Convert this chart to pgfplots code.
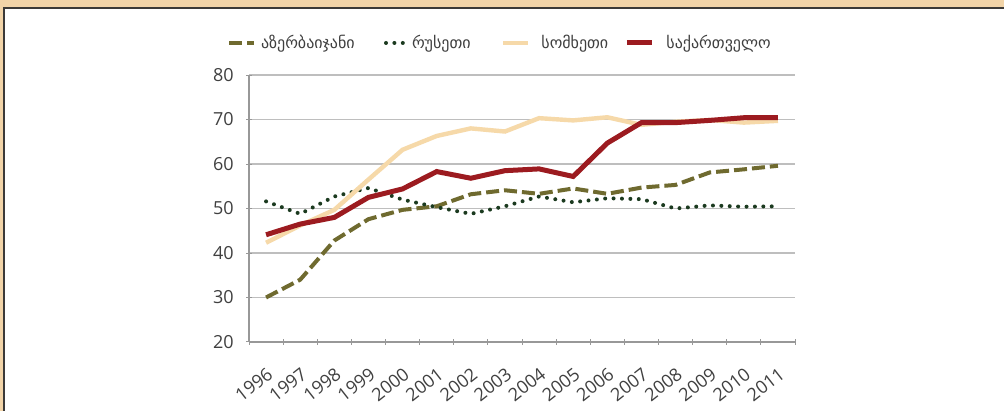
\documentclass[border=0pt]{standalone}
\usepackage{fontspec}
\setmainfont{Open Sans}
\newfontfamily\geo{DejaVu Sans}
\usepackage{pgfplots}
\pgfplotsset{compat=1.18}
\definecolor{aze}{HTML}{6F6A2F}
\definecolor{rus}{HTML}{1B3A1F}
\definecolor{arm}{HTML}{F6D9A9}
\definecolor{geo}{HTML}{9C1B20}
\definecolor{band}{HTML}{F2D4A8}
\definecolor{frame}{HTML}{3C3A38}
\definecolor{gridc}{HTML}{BEBEBE}
\definecolor{txt}{HTML}{404040}
\begin{document}
\begin{tikzpicture}
\useasboundingbox (0,0) rectangle (502pt,205.5pt);
\fill[white] (0,0) rectangle (502pt,205.5pt);
\fill[band] (0,201.75pt) rectangle (502pt,205.5pt);
\fill[band] (0,0) rectangle (1.6pt,205.5pt);
\draw[frame, line width=0.9pt] (2pt,0) -- (2pt,201.5pt) -- (502pt,201.5pt);
\begin{axis}[
  at={(124.5pt,34.5pt)}, anchor=south west,
  width=273pt, height=133.5pt, scale only axis,
  xmin=-0.5, xmax=15.5, ymin=20, ymax=80,
  ytick={20,30,...,80},
  xtick={0,...,15},
  xticklabels={1996,1997,1998,1999,2000,2001,2002,2003,2004,2005,2006,2007,2008,2009,2010,2011},
  minor xtick={-0.5,0.5,...,15.5},
  major x tick style={draw=none},
  minor x tick style={draw=gridc!80!black, line width=0.5pt},
  y tick style={draw=gridc!80!black, line width=0.5pt},
  tick align=outside,
  major tick length=3pt, minor tick length=3pt,
  separate axis lines,
  axis x line=bottom, axis y line=left,
  axis line style={-, draw=gridc!80!black, line width=0.6pt},
  ymajorgrids, grid style={draw=gridc, line width=0.7pt},
  tick label style={font=\fontsize{9}{10}\selectfont, text=txt},
  /pgf/number format/assume math mode=true,
  xticklabel style={rotate=38, anchor=north east, inner sep=0pt, xshift=-6.5pt, yshift=-8.3pt},
  yticklabel style={inner sep=0pt, xshift=-6pt},
  legend columns=4,
  legend style={draw=none, fill=none, inner sep=0pt, outer sep=0pt,
    at={(axis description cs:-0.0403,1.12)}, anchor=west,
    nodes={inner sep=0pt, anchor=west, font=\geo\fontsize{8}{9}\selectfont, text=txt},
    column sep=0pt},
  legend image code/.code={\draw[#1] (0pt,0pt) -- (12.5pt,0pt);},
]
\addplot[aze, line width=2pt, dash pattern=on 6.5pt off 2.5pt] coordinates {
(0,30.0) (1,34.0) (2,42.8) (3,47.6) (4,49.7) (5,50.5) (6,53.2) (7,54.1) (8,53.3) (9,54.5) (10,53.3) (11,54.7) (12,55.3) (13,58.1) (14,58.8) (15,59.6)};
\addlegendentry{\makebox[64pt][l]{\hspace{2.5pt}აზერბაიჯანი}}
\addplot[rus, line width=2pt, dash pattern=on 0pt off 4.2pt, line cap=round] coordinates {
(0,51.6) (1,48.8) (2,52.7) (3,54.6) (4,52.0) (5,50.3) (6,48.8) (7,50.5) (8,52.7) (9,51.4) (10,52.3) (11,52.1) (12,50.0) (13,50.7) (14,50.4) (15,50.5)};
\addlegendentry{\makebox[44pt][l]{\hspace{-0.5pt}რუსეთი}}
\addplot[arm, line width=2.2pt] coordinates {
(0,42.3) (1,46.2) (2,49.7) (3,56.5) (4,63.2) (5,66.3) (6,68.0) (7,67.3) (8,70.3) (9,69.8) (10,70.5) (11,68.8) (12,69.5) (13,69.9) (14,69.3) (15,69.7)};
\addlegendentry{\makebox[47pt][l]{\hspace{5.5pt}სომხეთი}}
\addplot[geo, line width=2.5pt] coordinates {
(0,44.1) (1,46.5) (2,48.0) (3,52.5) (4,54.4) (5,58.3) (6,56.8) (7,58.5) (8,58.9) (9,57.2) (10,64.7) (11,69.3) (12,69.3) (13,69.8) (14,70.4) (15,70.4)};
\addlegendentry{\hspace{6pt}საქართველო}
\end{axis}
\end{tikzpicture}
\end{document}
